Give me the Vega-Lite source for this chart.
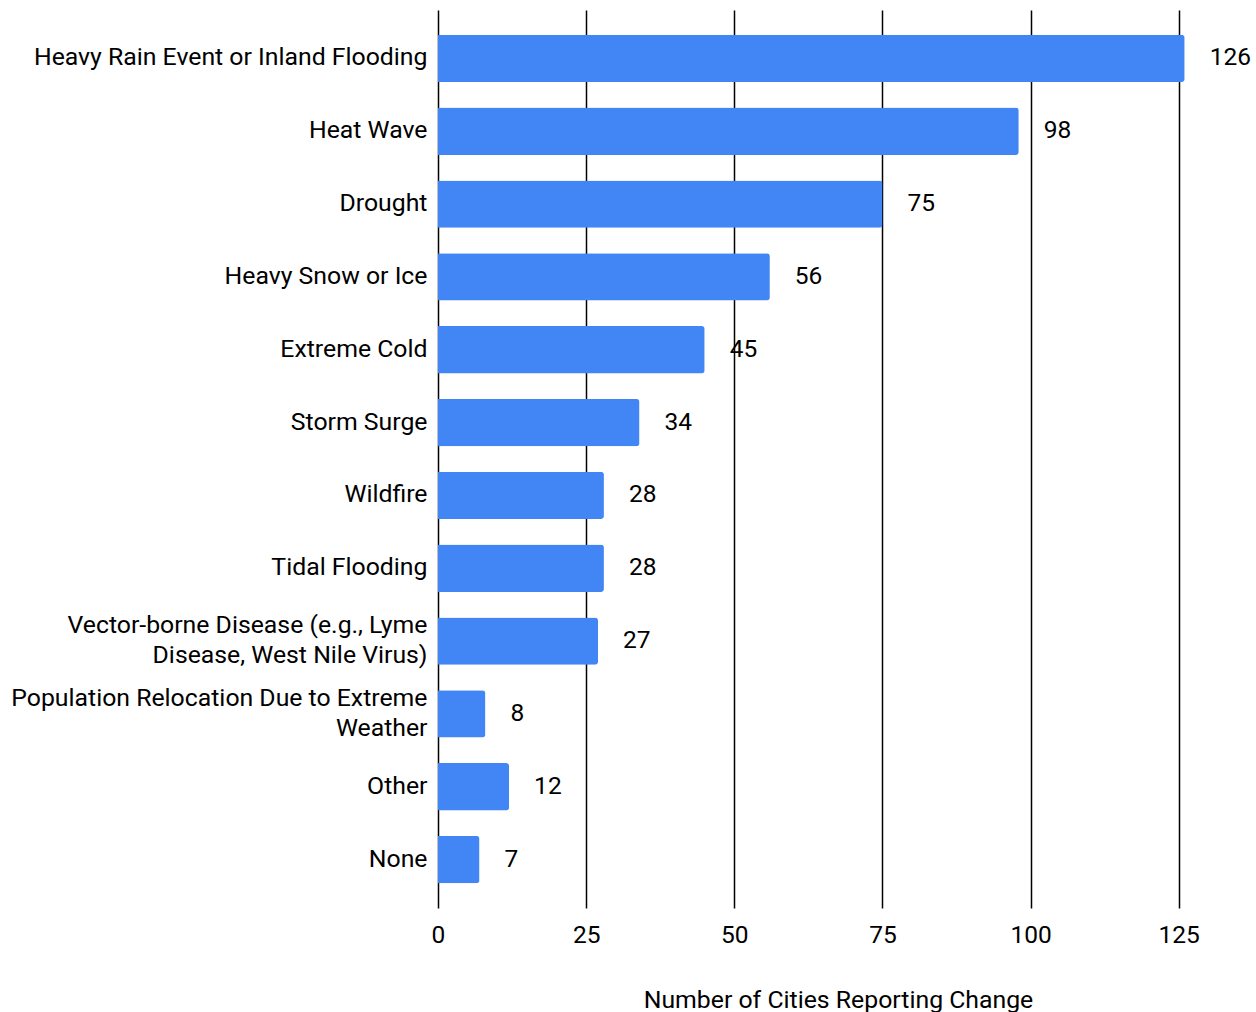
{
  "$schema": "https://vega.github.io/schema/vega-lite/v6.json",
  "autosize": {"type": "none"},
  "padding": {"left": 438, "top": 10, "right": 18, "bottom": 104},
  "width": 800,
  "height": 898,
  "background": "white",
  "config": {
    "font": "Roboto",
    "view": {"stroke": null}
  },
  "data": {
    "values": [
      {"category": "Heavy Rain Event or Inland Flooding", "count": 126},
      {"category": "Heat Wave", "count": 98},
      {"category": "Drought", "count": 75},
      {"category": "Heavy Snow or Ice", "count": 56},
      {"category": "Extreme Cold", "count": 45},
      {"category": "Storm Surge", "count": 34},
      {"category": "Wildfire", "count": 28},
      {"category": "Tidal Flooding", "count": 28},
      {"category": "Vector-borne Disease (e.g., Lyme Disease, West Nile Virus)", "count": 27},
      {"category": "Population Relocation Due to Extreme Weather", "count": 8},
      {"category": "Other", "count": 12},
      {"category": "None", "count": 7}
    ]
  },
  "encoding": {
    "y": {
      "field": "category",
      "type": "nominal",
      "sort": null,
      "scale": {"paddingInner": 0.35, "paddingOuter": 0.34},
      "axis": {
        "title": null,
        "ticks": false,
        "domain": false,
        "labelFontSize": 24.8,
        "labelColor": "#000000",
        "labelPadding": 11,
        "labelLimit": 500,
        "labelLineHeight": 30,
        "labelOffset": {
          "condition": {"test": "datum.value == 'Vector-borne Disease (e.g., Lyme Disease, West Nile Virus)' || datum.value == 'Population Relocation Due to Extreme Weather'", "value": -15},
          "value": 0
        },
        "labelExpr": "datum.value == 'Vector-borne Disease (e.g., Lyme Disease, West Nile Virus)' ? ['Vector-borne Disease (e.g., Lyme', 'Disease, West Nile Virus)'] : datum.value == 'Population Relocation Due to Extreme Weather' ? ['Population Relocation Due to Extreme', 'Weather'] : datum.label"
      }
    },
    "x": {
      "field": "count",
      "type": "quantitative",
      "scale": {"domain": [0, 135], "nice": false},
      "axis": {
        "values": [0, 25, 50, 75, 100, 125],
        "title": "Number of Cities Reporting Change",
        "titleFontSize": 24.8,
        "titleFontWeight": "normal",
        "titleColor": "#000000",
        "titlePadding": 41,
        "labelFontSize": 24.5,
        "labelColor": "#000000",
        "labelPadding": 15,
        "labelFlush": false,
        "ticks": false,
        "domain": false,
        "grid": true,
        "gridColor": "#000000",
        "gridWidth": 1.5,
        "gridOpacity": 1
      }
    }
  },
  "layer": [
    {
      "mark": {"type": "bar", "color": "#4285F4", "cornerRadiusEnd": 3}
    },
    {
      "mark": {"type": "text", "align": "left", "baseline": "middle", "dx": 25, "fontSize": 24.5, "color": "#000000"},
      "encoding": {"text": {"field": "count", "type": "quantitative"}}
    }
  ]
}
